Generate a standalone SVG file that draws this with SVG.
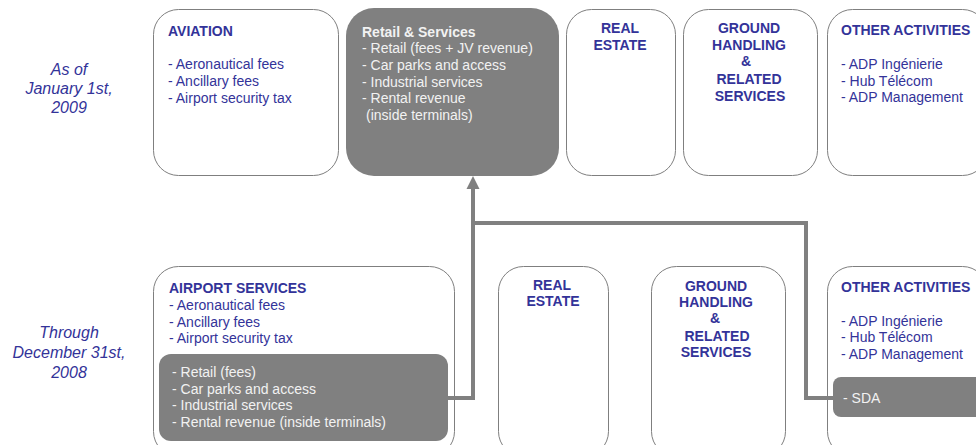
<svg xmlns="http://www.w3.org/2000/svg" width="976" height="445" viewBox="0 0 976 445">
<defs>
<style>
.box{fill:#fff;stroke:#7f7f7f;stroke-width:1}
.gbox{fill:#808080;stroke:none}
text{font-family:"Liberation Sans",Arial,sans-serif;font-size:14px}
.h{font-weight:bold;fill:#333399}
.b{fill:#333399}
.w{fill:#f2f2f2}
.wh{fill:#f2f2f2;font-weight:bold}
.lbl{font-style:italic;font-size:16px;fill:#333399;text-anchor:middle}
.c{text-anchor:middle}
.conn{fill:none;stroke:#808080;stroke-width:4}
.head{fill:#808080}
</style>
</defs>

<g id="label-2009">
<text class="lbl" x="69" y="75">As of</text>
<text class="lbl" x="69" y="94">January 1st,</text>
<text class="lbl" x="69" y="113">2009</text>
</g>
<g id="label-2008">
<text class="lbl" x="69" y="338">Through</text>
<text class="lbl" x="69" y="358">December 31st,</text>
<text class="lbl" x="69" y="378">2008</text>
</g>

<g id="aviation">
<rect class="box" x="153.5" y="9.5" width="185" height="166" rx="25"/>
<text class="h" x="168" y="36">AVIATION</text>
<text class="b" x="168" y="69">- Aeronautical fees</text>
<text class="b" x="168" y="86">- Ancillary fees</text>
<text class="b" x="168" y="103">- Airport security tax</text>
</g>

<g id="retail">
<rect class="gbox" x="346" y="8" width="213" height="168" rx="28"/>
<text class="wh" x="362" y="37">Retail &amp; Services</text>
<text class="w" x="362" y="53">- Retail (fees + JV revenue)</text>
<text class="w" x="362" y="70">- Car parks and access</text>
<text class="w" x="362" y="87">- Industrial services</text>
<text class="w" x="362" y="103">- Rental revenue</text>
<text class="w" x="366" y="120"> (inside terminals)</text>
</g>

<g id="realestate-top">
<rect class="box" x="566.5" y="9.5" width="109" height="166" rx="25"/>
<text class="h c" x="620" y="33">REAL</text>
<text class="h c" x="620" y="50">ESTATE</text>
</g>

<g id="ground-top">
<rect class="box" x="683.5" y="9.5" width="134" height="166" rx="25"/>
<text class="h c" x="749" y="33">GROUND</text>
<text class="h c" x="749" y="50">HANDLING</text>
<text class="h c" x="746" y="66">&amp;</text>
<text class="h c" x="749" y="84">RELATED</text>
<text class="h c" x="750" y="101">SERVICES</text>
</g>

<g id="other-top">
<rect class="box" x="827.5" y="9.5" width="160" height="166" rx="25"/>
<text class="h" x="841" y="35">OTHER ACTIVITIES</text>
<text class="b" x="841" y="69">- ADP Ingénierie</text>
<text class="b" x="841" y="86">- Hub Télécom</text>
<text class="b" x="841" y="102">- ADP Management</text>
</g>

<g id="airport-services">
<rect class="box" x="153.5" y="266.5" width="301" height="190" rx="25"/>
<text class="h" x="169" y="293">AIRPORT SERVICES</text>
<text class="b" x="169" y="310">- Aeronautical fees</text>
<text class="b" x="169" y="327">- Ancillary fees</text>
<text class="b" x="169" y="343">- Airport security tax</text>
<rect id="retail-old" class="gbox" x="159" y="354" width="289" height="87" rx="12"/>
<text class="w" x="172" y="377">- Retail (fees)</text>
<text class="w" x="172" y="394">- Car parks and access</text>
<text class="w" x="172" y="410">- Industrial services</text>
<text class="w" x="172" y="427">- Rental revenue (inside terminals)</text>
</g>

<g id="realestate-bottom">
<rect class="box" x="498.5" y="266.5" width="110" height="190" rx="25"/>
<text class="h c" x="552" y="290">REAL</text>
<text class="h c" x="553" y="306">ESTATE</text>
</g>

<g id="ground-bottom">
<rect class="box" x="651.5" y="266.5" width="134" height="190" rx="25"/>
<text class="h c" x="716" y="291">GROUND</text>
<text class="h c" x="716" y="307">HANDLING</text>
<text class="h c" x="715" y="323">&amp;</text>
<text class="h c" x="717" y="341">RELATED</text>
<text class="h c" x="716" y="357">SERVICES</text>
</g>

<g id="other-bottom">
<rect class="box" x="827.5" y="266.5" width="160" height="190" rx="25"/>
<text class="h" x="841" y="292">OTHER ACTIVITIES</text>
<text class="b" x="841" y="326">- ADP Ingénierie</text>
<text class="b" x="841" y="342">- Hub Télécom</text>
<text class="b" x="841" y="359">- ADP Management</text>
<rect id="sda" class="gbox" x="833" y="377" width="160" height="40" rx="8"/>
<text class="w" x="843" y="403">- SDA</text>
</g>

<g id="connectors">
<polyline class="conn" points="448,398 473,398 473,187"/>
<polygon class="head" points="473,176 466.5,189 479.5,189"/>
<polyline class="conn" points="473,223 806,223 806,398 833,398"/>
</g>
</svg>
